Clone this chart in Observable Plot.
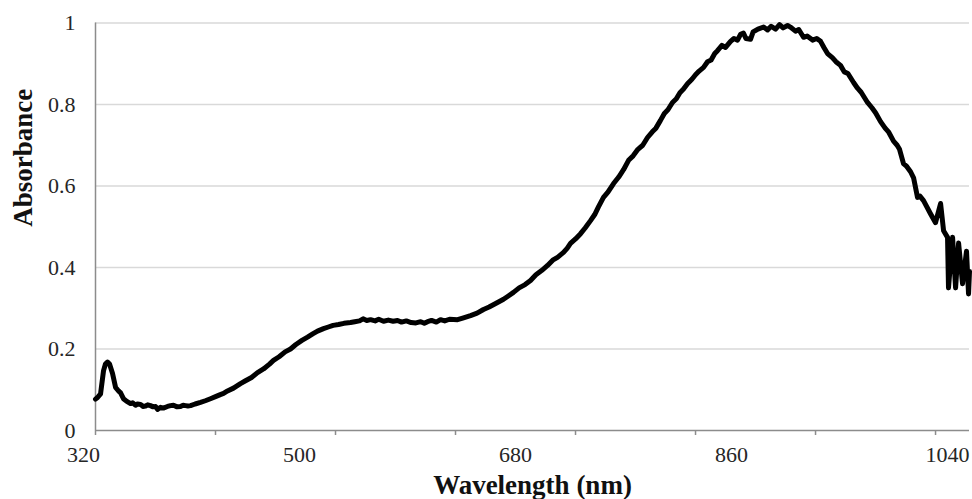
<!DOCTYPE html>
<html>
<head>
<meta charset="utf-8">
<script src="https://cdn.jsdelivr.net/npm/d3@7"></script>
<script src="https://cdn.jsdelivr.net/npm/@observablehq/plot@0.6"></script>
<style>
  html, body { margin: 0; padding: 0; background: #fff; }
  svg { display: block; }
</style>
</head>
<body>
<div id="chart"></div>
<script>
// Wavelength (nm) and absorbance
const wavelength = [
  320, 321.7, 324.2, 326.7, 328.3, 330, 331.7, 334.2, 336.7, 339.2, 340.8, 343.3,
  345.8, 349.2, 351, 353.3, 355, 357.5, 359.5, 361.7, 363.5, 365.8, 368, 370, 371.7, 374.2,
  376.5, 380, 382.5, 385, 388, 390.8, 393, 395, 397, 399.2, 403, 407.5, 411.5, 415.8, 420,
  424, 426.7,
  430, 435, 440.8, 445, 450, 455, 460, 465, 468.3, 473, 478, 482.5, 487, 492, 496.7, 501,
  505, 510, 514, 518, 522.5, 527, 532.5,
  536, 540, 543, 546, 549.2, 553, 556, 560, 564, 568, 571.7, 575, 579, 583, 587, 591, 594,
  596.7, 600, 604, 607.5, 611, 615, 621.7, 626, 632.5, 638,
  643.3, 648, 655, 660, 664, 668.3, 673, 678, 682.5, 687, 692, 696.7, 701, 705, 710, 713,
  715.8, 720, 724.2, 728, 732.5,
  736, 739, 743.3, 747, 751.7, 756, 760, 764.2, 768, 772, 776, 780, 784, 787, 790.8, 794,
  797, 800.8, 804, 807, 810, 813.3, 817, 820, 823, 826.7, 830, 833, 836, 838.3, 842, 845,
  849.2, 852, 855, 857.5,
  860, 862, 865.8, 868, 872, 876.7, 880, 883, 886.7, 890, 893, 896.7, 899, 903.3, 906, 910,
  913, 917.5, 921, 924.2, 927, 930,
  934, 937, 940.8, 944, 947, 951.7, 955, 958, 963.3, 967, 970, 974.2, 978, 981, 985, 988,
  990, 993.3, 996, 999.2, 1001.7, 1005, 1007, 1010,
  1015.8, 1020, 1024.2, 1026.7, 1030, 1030.8, 1034.2, 1036.7, 1039.2, 1042.5, 1045.8,
  1047.5, 1048.3
];
const absorbance = [
  0.077, 0.081, 0.090, 0.147, 0.163, 0.168, 0.163, 0.140, 0.106, 0.097, 0.093, 0.078,
  0.072, 0.066, 0.068, 0.062, 0.065, 0.064, 0.059, 0.060, 0.063, 0.061, 0.058, 0.059, 0.052, 0.057,
  0.055, 0.059, 0.061, 0.062, 0.058, 0.059, 0.062, 0.061, 0.060, 0.061, 0.065, 0.069, 0.073, 0.078, 0.083,
  0.088, 0.091,
  0.097, 0.104, 0.115, 0.122, 0.130, 0.142, 0.151, 0.163, 0.172, 0.181, 0.193, 0.200, 0.211, 0.221, 0.229, 0.237,
  0.244, 0.250, 0.254, 0.258, 0.260, 0.263, 0.265,
  0.267, 0.269, 0.274, 0.270, 0.272, 0.269, 0.273, 0.268, 0.271, 0.268, 0.270, 0.266, 0.269, 0.265, 0.264, 0.267, 0.263,
  0.267, 0.270, 0.266, 0.272, 0.269, 0.273, 0.272, 0.276, 0.282, 0.288,
  0.297, 0.303, 0.314, 0.322, 0.330, 0.339, 0.350, 0.358, 0.368, 0.382, 0.393, 0.405, 0.418, 0.425, 0.437, 0.447,
  0.459, 0.470, 0.483, 0.497, 0.515,
  0.530, 0.548, 0.572, 0.585, 0.606, 0.622, 0.640, 0.663, 0.674, 0.690, 0.700, 0.719, 0.733, 0.742, 0.761, 0.778,
  0.787, 0.805, 0.814, 0.829, 0.838, 0.851, 0.862, 0.873, 0.882, 0.891, 0.905, 0.909, 0.925, 0.932, 0.945, 0.940,
  0.955, 0.962, 0.958, 0.972,
  0.975, 0.962, 0.960, 0.978, 0.985, 0.990, 0.983, 0.992, 0.985, 0.996, 0.988, 0.994, 0.990, 0.980, 0.984, 0.965,
  0.968, 0.958, 0.962, 0.955, 0.940, 0.925,
  0.915, 0.905, 0.896, 0.880, 0.876, 0.854, 0.840, 0.830, 0.805, 0.792, 0.780, 0.758, 0.742, 0.732, 0.710, 0.700,
  0.690, 0.655, 0.648, 0.635, 0.620, 0.572, 0.575, 0.564,
  0.532, 0.510, 0.557, 0.490, 0.474, 0.350, 0.474, 0.350, 0.460, 0.360, 0.440,
  0.335, 0.390
];
const xLabelTicks = [320, 500, 680, 860, 1040];
const xMarkTicks = [320, 420, 520, 620, 720, 820, 920, 1020];
const yTicks = [0, 0.2, 0.4, 0.6, 0.8, 1];
const gridValues = [0.2, 0.4, 0.6, 0.8, 1];

const data = wavelength.map((w, i) => ({w, a: absorbance[i]}));
const serif = "'Liberation Serif', 'Times New Roman', serif";

const chart = Plot.plot({
  width: 972,
  height: 499,
  marginLeft: 95,
  marginRight: 3,
  marginTop: 22.5,
  marginBottom: 69,
  style: {fontFamily: serif, background: "#fff"},
  x: {domain: [320, 1048.3]},
  y: {domain: [0, 1]},
  marks: [
    Plot.ruleY(gridValues, {stroke: "#d9d9d9", strokeWidth: 1.3}),
    Plot.ruleY([0], {stroke: "#8c8c8c", strokeWidth: 1.5}),
    Plot.ruleX([320], {stroke: "#8c8c8c", strokeWidth: 1.5}),
    Plot.axisX({ticks: xMarkTicks, tickSize: 5, tickFormat: () => "", stroke: "#8c8c8c", strokeWidth: 1.5, label: null}),
    Plot.axisX({ticks: xLabelTicks, tickSize: 0, tickPadding: 16, dx: -12, fontSize: 22, fill: "#262626", tickFormat: d => String(d), label: null}),
    Plot.axisY({ticks: yTicks, tickSize: 0, tickPadding: 20, fontSize: 22, fill: "#262626", tickFormat: d => String(d), label: null}),
    Plot.line(data, {x: "w", y: "a", stroke: "#000", strokeWidth: 5, strokeLinejoin: "round", strokeLinecap: "round"}),
    Plot.text(["Absorbance"], {frameAnchor: "left", dx: -72, rotate: -90, fontSize: 27, fontWeight: "bold", fill: "#111", text: d => d}),
    Plot.text(["Wavelength (nm)"], {frameAnchor: "bottom", dy: 63, fontSize: 27, fontWeight: "bold", fill: "#111", text: d => d})
  ]
});
document.getElementById("chart").appendChild(chart);
</script>
</body>
</html>
